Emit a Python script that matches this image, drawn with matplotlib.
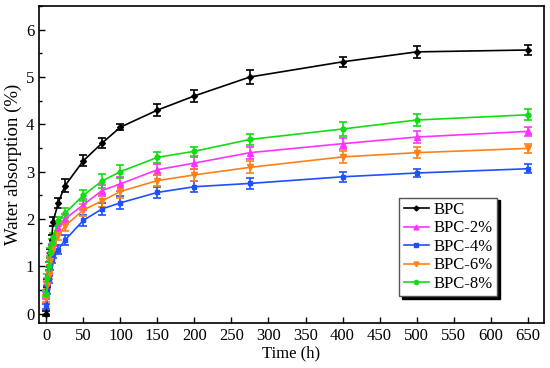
import matplotlib
matplotlib.use("Agg")
import matplotlib.pyplot as plt
from matplotlib.ticker import MultipleLocator
from matplotlib.lines import Line2D

plt.rcParams['font.family'] = ['Liberation Serif', 'DejaVu Serif']

time_h = [0, 1, 3, 5, 7, 9, 16, 25, 50, 75, 100, 150, 200, 275, 400, 500, 650]

series_names = ["BPC", "BPC-2%", "BPC-4%", "BPC-6%", "BPC-8%"]
bpc   = [0, 0.65, 1.00, 1.27, 1.55, 1.94, 2.34, 2.70, 3.23, 3.60, 3.94, 4.30, 4.60, 5.00, 5.32, 5.53, 5.57]
bpc2  = [0.38, 0.68, 0.90, 1.20, 1.40, 1.50, 1.80, 2.00, 2.30, 2.60, 2.74, 3.04, 3.18, 3.40, 3.59, 3.73, 3.85]
bpc4  = [0.15, 0.50, 0.72, 1.00, 1.15, 1.25, 1.35, 1.55, 1.97, 2.21, 2.34, 2.56, 2.68, 2.75, 2.89, 2.97, 3.06]
bpc6  = [0.32, 0.60, 0.82, 1.10, 1.30, 1.42, 1.65, 1.85, 2.19, 2.38, 2.58, 2.81, 2.93, 3.09, 3.31, 3.40, 3.49]
bpc8  = [0.42, 0.75, 1.00, 1.30, 1.50, 1.62, 1.95, 2.12, 2.50, 2.80, 3.00, 3.30, 3.43, 3.68, 3.90, 4.09, 4.20]

err_bpc  = [0.05, 0.08, 0.08, 0.10, 0.10, 0.10, 0.10, 0.14, 0.12, 0.10, 0.07, 0.12, 0.13, 0.15, 0.10, 0.12, 0.10]
err_bpc2 = [0.08, 0.08, 0.08, 0.08, 0.08, 0.08, 0.10, 0.10, 0.12, 0.12, 0.14, 0.12, 0.12, 0.13, 0.12, 0.12, 0.10]
err_bpc4 = [0.06, 0.08, 0.08, 0.08, 0.08, 0.08, 0.10, 0.10, 0.12, 0.12, 0.14, 0.12, 0.12, 0.12, 0.10, 0.08, 0.10]
err_bpc6 = [0.08, 0.08, 0.08, 0.08, 0.08, 0.08, 0.10, 0.10, 0.12, 0.12, 0.14, 0.12, 0.12, 0.13, 0.12, 0.12, 0.10]
err_bpc8 = [0.08, 0.08, 0.08, 0.08, 0.08, 0.08, 0.10, 0.10, 0.12, 0.14, 0.14, 0.12, 0.10, 0.12, 0.15, 0.12, 0.12]

values = [bpc, bpc2, bpc4, bpc6, bpc8]
errors = [err_bpc, err_bpc2, err_bpc4, err_bpc6, err_bpc8]
colors = ["#000000", "#FF33FF", "#1F4FFF", "#FF8019", "#11DD11"]
markers = ["D", "^", "s", "v", "o"]
msizes = [3, 4, 3.5, 4, 3.5]

fig = plt.figure(figsize=(5.5, 3.68), dpi=100)
ax = fig.add_axes([0.0709, 0.1223, 0.918, 0.8614])

handles = []
for name, y, e, c, m, ms in zip(series_names, values, errors, colors, markers, msizes):
    ax.errorbar(time_h, y, yerr=e, color=c, marker=m, markersize=ms, lw=1.2,
                elinewidth=1.2, capsize=3, capthick=1.2)
    handles.append(Line2D([], [], color=c, marker=m, markersize=ms - 0.5, lw=1.2, label=name))

ax.set_xlim(-10, 672)
ax.set_ylim(-0.2, 6.5)
ax.xaxis.set_major_locator(MultipleLocator(50))
ax.yaxis.set_major_locator(MultipleLocator(1))
ax.yaxis.set_minor_locator(MultipleLocator(0.5))
ax.tick_params(axis='both', which='major', direction='in', length=4, width=1, labelsize=12,
               top=False, right=False)
ax.tick_params(axis='y', which='minor', direction='in', length=2.5, width=1, right=False)
for s in ax.spines.values():
    s.set_linewidth(1.2)

ax.set_xlabel("Time (h)", fontsize=12, labelpad=1)
ax.set_ylabel("Water absorption (%)", fontsize=13.5, labelpad=3)

leg = ax.legend(handles=handles, loc='lower right', bbox_to_anchor=(0.907, 0.085), fontsize=12,
                frameon=True, fancybox=False, edgecolor='#555555',
                shadow={'color': 'black', 'alpha': 1},
                handlelength=1.5, handletextpad=0.3, borderpad=0.25, labelspacing=0.15,
                borderaxespad=0)
leg.get_frame().set_linewidth(1.0)

fig.savefig("out.png", dpi=100)
